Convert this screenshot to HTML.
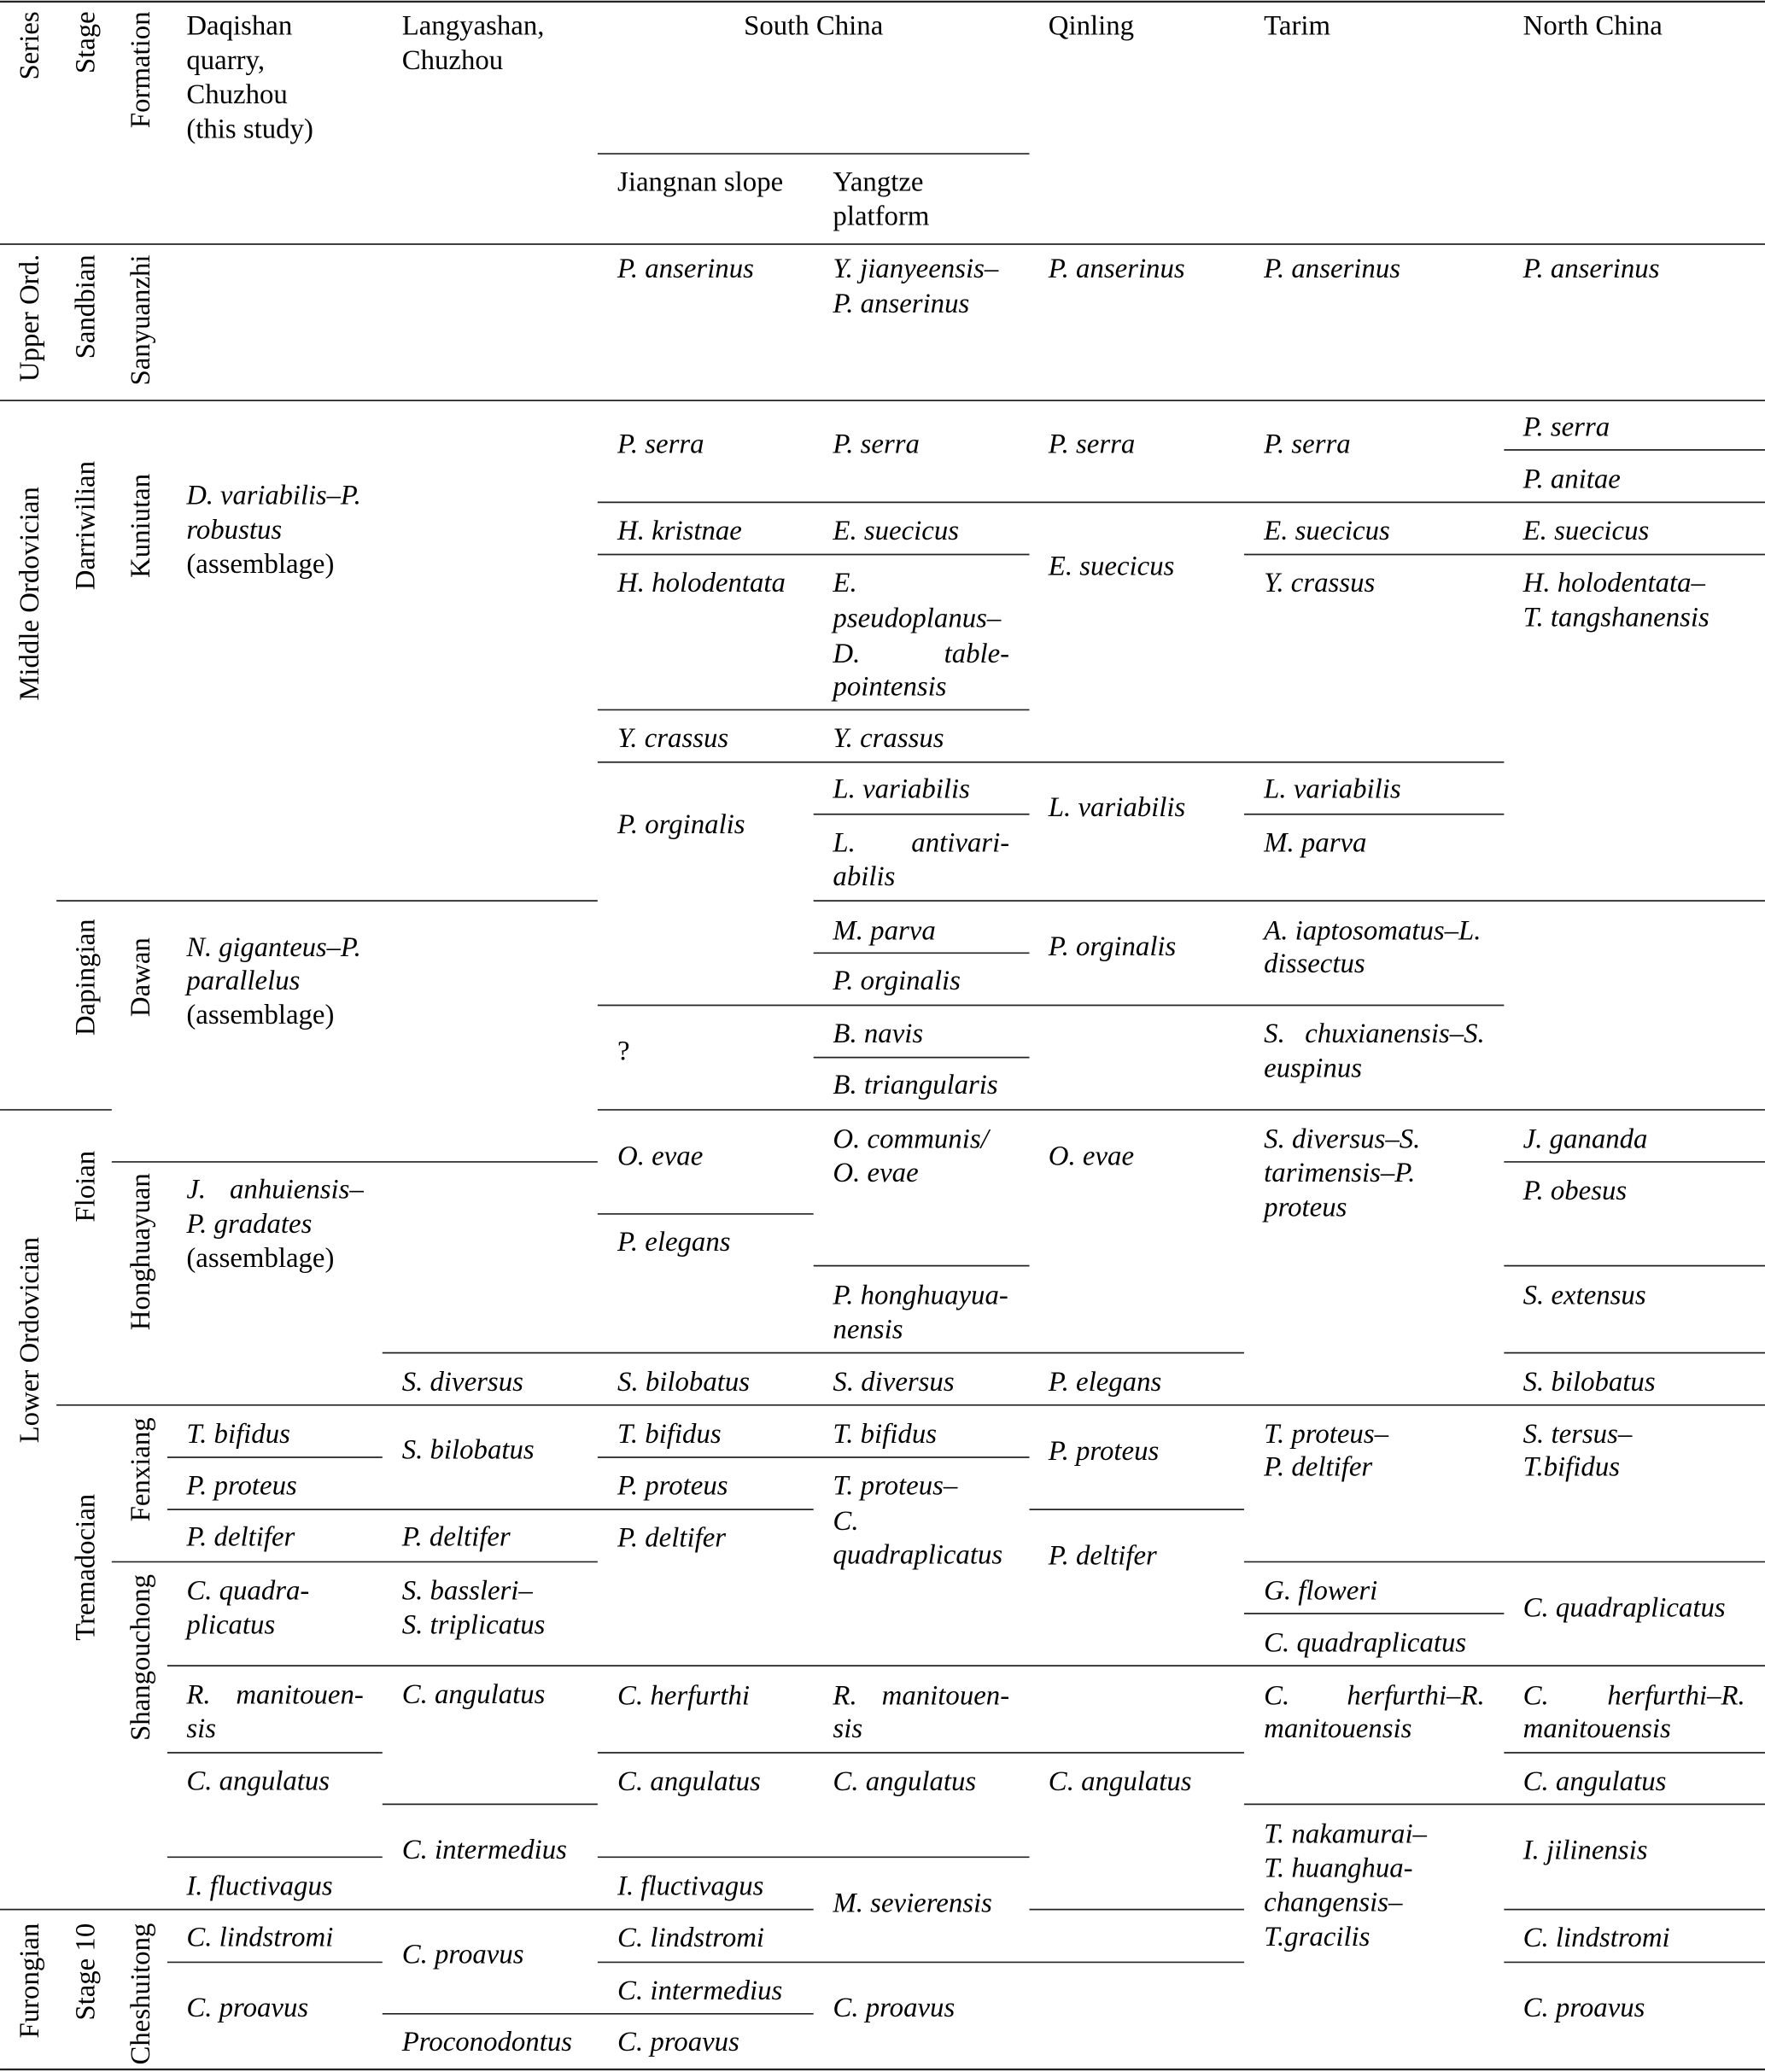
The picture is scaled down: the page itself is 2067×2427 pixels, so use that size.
<!DOCTYPE html>
<html>
<head>
<meta charset="utf-8">
<style>
  html, body { margin: 0; padding: 0; background: #ffffff; }
  svg { display: block; }
  text { font-family: "Liberation Serif", "Times New Roman", serif; font-size: 21.2px; fill: #000; }
  .i { font-style: italic; }
  .ln { stroke: #222; stroke-width: 1.1; fill: none; }
  .lt { stroke: #222; stroke-width: 1.5; fill: none; }
</style>
</head>
<body>
<svg width="2067" height="2427" viewBox="0 0 1335 1567.55" xmlns="http://www.w3.org/2000/svg">
  <rect x="0" y="0" width="1335" height="1567.55" fill="#fff"/>

  <!-- Top and bottom rules -->
  <path class="lt" d="M0 1.2 H1335 M0 1565.6 H1335"/>

  <!-- Horizontal rules -->
  <path class="ln" d="
    M452 116.3 H778.6
    M0 184.7 H1335
    M0 303 H1335
    M1137.6 340.4 H1335
    M452 380 H1335
    M452 419.5 H778.6 M941 419.5 H1335
    M452 537 H778.6
    M452 576.6 H1137.6
    M615.3 616 H778.6 M941 616 H1137.6
    M42.7 681.5 H452 M615.3 681.5 H1335
    M615.3 721 H778.6
    M452 760.5 H1137.6
    M615.3 800 H778.6
    M0 839.6 H84.5 M452 839.6 H1335
    M84.5 879 H452 M1137.6 879 H1335
    M452 918.4 H615.3
    M615.3 957.6 H778.6 M1137.6 957.6 H1335
    M289.2 1023.5 H941 M1137.6 1023.5 H1335
    M42.7 1063 H1335
    M126.5 1102.5 H289.2 M452 1102.5 H778.6
    M126.5 1142 H615.3 M778.6 1142 H941
    M84.5 1181.6 H452 M941 1181.6 H1335
    M941 1220.7 H1137.6
    M126.5 1260.2 H1335
    M126.5 1326 H289.2 M452 1326 H941 M1137.6 1326 H1335
    M289.2 1365 H452 M941 1365 H1335
    M126.5 1405 H289.2 M452 1405 H778.6
    M0 1444.6 H615.3 M778.6 1444.6 H941 M1137.6 1444.6 H1335
    M126.5 1484.5 H289.2 M452 1484.5 H941 M1137.6 1484.5 H1335
    M289.2 1523.5 H615.3
  "/>

  <!-- Rotated labels -->
  <text transform="translate(29,34.5) rotate(-90)" text-anchor="middle">Series</text>
  <text transform="translate(71.5,32.1) rotate(-90)" text-anchor="middle">Stage</text>
  <text transform="translate(113,52.8) rotate(-90)" text-anchor="middle">Formation</text>

  <text transform="translate(29,240.6) rotate(-90)" text-anchor="middle">Upper Ord.</text>
  <text transform="translate(71.5,232.1) rotate(-90)" text-anchor="middle">Sandbian</text>
  <text transform="translate(113,242.2) rotate(-90)" text-anchor="middle">Sanyuanzhi</text>

  <text transform="translate(29,449.2) rotate(-90)" text-anchor="middle">Middle Ordovician</text>
  <text transform="translate(71.5,397.6) rotate(-90)" text-anchor="middle">Darriwilian</text>
  <text transform="translate(113,397.8) rotate(-90)" text-anchor="middle">Kuniutan</text>
  <text transform="translate(71.5,739.4) rotate(-90)" text-anchor="middle">Dapingian</text>
  <text transform="translate(113,739.3) rotate(-90)" text-anchor="middle">Dawan</text>

  <text transform="translate(29,1013.8) rotate(-90)" text-anchor="middle">Lower Ordovician</text>
  <text transform="translate(71.5,897.6) rotate(-90)" text-anchor="middle">Floian</text>
  <text transform="translate(113,947) rotate(-90)" text-anchor="middle">Honghuayuan</text>
  <text transform="translate(71.5,1185.7) rotate(-90)" text-anchor="middle">Tremadocian</text>
  <text transform="translate(113,1111.8) rotate(-90)" text-anchor="middle">Fenxiang</text>
  <text transform="translate(113,1254) rotate(-90)" text-anchor="middle">Shangouchong</text>

  <text transform="translate(29,1498.5) rotate(-90)" text-anchor="middle">Furongian</text>
  <text transform="translate(71.5,1491.8) rotate(-90)" text-anchor="middle">Stage 10</text>
  <text transform="translate(113,1508.5) rotate(-90)" text-anchor="middle">Cheshuitong</text>

  <!-- Header -->
  <text x="141" y="26.3">Daqishan</text>
  <text x="141" y="52.3">quarry,</text>
  <text x="141" y="78.3">Chuzhou</text>
  <text x="141" y="104.3">(this study)</text>
  <text x="304" y="26.3">Langyashan,</text>
  <text x="304" y="52.3">Chuzhou</text>
  <text x="615.3" y="26.3" text-anchor="middle">South China</text>
  <text x="793" y="26.3">Qinling</text>
  <text x="956" y="26.3">Tarim</text>
  <text x="1152" y="26.3">North China</text>
  <text x="467" y="144.3">Jiangnan slope</text>
  <text x="630" y="144.3">Yangtze</text>
  <text x="630" y="170.3">platform</text>

  <!-- Upper Ordovician -->
  <text class="i" x="467" y="209.9">P. anserinus</text>
  <text class="i" x="630" y="209.9">Y. jianyeensis–</text>
  <text class="i" x="630" y="236.5">P. anserinus</text>
  <text class="i" x="793" y="209.9">P. anserinus</text>
  <text class="i" x="956" y="209.9">P. anserinus</text>
  <text class="i" x="1152" y="209.9">P. anserinus</text>

  <!-- Daqishan column -->
  <text class="i" x="141" y="381.5" textLength="132" lengthAdjust="spacingAndGlyphs">D. variabilis–P.</text>
  <text class="i" x="141" y="407.5">robustus</text>
  <text x="141" y="433.5">(assemblage)</text>
  <text class="i" x="141" y="723.5" textLength="132" lengthAdjust="spacingAndGlyphs">N. giganteus–P.</text>
  <text class="i" x="141" y="748.5">parallelus</text>
  <text x="141" y="774.3">(assemblage)</text>
  <text class="i" x="141" y="906.5">J.</text>
  <text class="i" x="275" y="906.5" text-anchor="end">anhuiensis–</text>
  <text class="i" x="141" y="932.5">P. gradates</text>
  <text x="141" y="958.5">(assemblage)</text>
  <text class="i" x="141" y="1091.5">T. bifidus</text>
  <text class="i" x="141" y="1130.5">P. proteus</text>
  <text class="i" x="141" y="1169.5">P. deltifer</text>
  <text class="i" x="141" y="1210">C. quadra-</text>
  <text class="i" x="141" y="1235.8">plicatus</text>
  <text class="i" x="141" y="1289">R.</text>
  <text class="i" x="275" y="1289" text-anchor="end">manitouen-</text>
  <text class="i" x="141" y="1314.5">sis</text>
  <text class="i" x="141" y="1354">C. angulatus</text>
  <text class="i" x="141" y="1433.5">I. fluctivagus</text>
  <text class="i" x="141" y="1472.3">C. lindstromi</text>
  <text class="i" x="141" y="1525.5">C. proavus</text>

  <!-- Langyashan column -->
  <text class="i" x="304" y="1052.2">S. diversus</text>
  <text class="i" x="304" y="1103.5">S. bilobatus</text>
  <text class="i" x="304" y="1169.5">P. deltifer</text>
  <text class="i" x="304" y="1210">S. bassleri–</text>
  <text class="i" x="304" y="1235.8">S. triplicatus</text>
  <text class="i" x="304" y="1288.5">C. angulatus</text>
  <text class="i" x="304" y="1406">C. intermedius</text>
  <text class="i" x="304" y="1485.3">C. proavus</text>
  <text class="i" x="304" y="1551.5">Proconodontus</text>

  <!-- Jiangnan slope -->
  <text class="i" x="467" y="342.5">P. serra</text>
  <text class="i" x="467" y="408.2">H. kristnae</text>
  <text class="i" x="467" y="447.5">H. holodentata</text>
  <text class="i" x="467" y="565">Y. crassus</text>
  <text class="i" x="467" y="630.3">P. orginalis</text>
  <text x="467" y="802">?</text>
  <text class="i" x="467" y="881.2">O. evae</text>
  <text class="i" x="467" y="946.3">P. elegans</text>
  <text class="i" x="467" y="1052.2">S. bilobatus</text>
  <text class="i" x="467" y="1091.5">T. bifidus</text>
  <text class="i" x="467" y="1130.5">P. proteus</text>
  <text class="i" x="467" y="1170">P. deltifer</text>
  <text class="i" x="467" y="1289.5">C. herfurthi</text>
  <text class="i" x="467" y="1354.3">C. angulatus</text>
  <text class="i" x="467" y="1433.5">I. fluctivagus</text>
  <text class="i" x="467" y="1472.5">C. lindstromi</text>
  <text class="i" x="467" y="1512.5">C. intermedius</text>
  <text class="i" x="467" y="1551.5">C. proavus</text>

  <!-- Yangtze platform -->
  <text class="i" x="630" y="342.5">P. serra</text>
  <text class="i" x="630" y="408.2">E. suecicus</text>
  <text class="i" x="630" y="447.5">E.</text>
  <text class="i" x="630" y="474.5">pseudoplanus–</text>
  <text class="i" x="630" y="501.2">D.</text>
  <text class="i" x="763.5" y="501.2" text-anchor="end">table-</text>
  <text class="i" x="630" y="526">pointensis</text>
  <text class="i" x="630" y="565">Y. crassus</text>
  <text class="i" x="630" y="603.5">L. variabilis</text>
  <text class="i" x="630" y="644.3">L.</text>
  <text class="i" x="763.5" y="644.3" text-anchor="end">antivari-</text>
  <text class="i" x="630" y="669.8">abilis</text>
  <text class="i" x="630" y="710.9">M. parva</text>
  <text class="i" x="630" y="748.7">P. orginalis</text>
  <text class="i" x="630" y="788.5">B. navis</text>
  <text class="i" x="630" y="827.5">B. triangularis</text>
  <text class="i" x="630" y="868.5">O. communis/</text>
  <text class="i" x="630" y="894">O. evae</text>
  <text class="i" x="630" y="986.5">P. honghuayua-</text>
  <text class="i" x="630" y="1012.5">nensis</text>
  <text class="i" x="630" y="1052.2">S. diversus</text>
  <text class="i" x="630" y="1091.5">T. bifidus</text>
  <text class="i" x="630" y="1130.5">T. proteus–</text>
  <text class="i" x="630" y="1157.5">C.</text>
  <text class="i" x="630" y="1183">quadraplicatus</text>
  <text class="i" x="630" y="1289.5">R.</text>
  <text class="i" x="763.5" y="1289.5" text-anchor="end">manitouen-</text>
  <text class="i" x="630" y="1314.5">sis</text>
  <text class="i" x="630" y="1354.3">C. angulatus</text>
  <text class="i" x="630" y="1446.5">M. sevierensis</text>
  <text class="i" x="630" y="1525.5">C. proavus</text>

  <!-- Qinling -->
  <text class="i" x="793" y="342.5">P. serra</text>
  <text class="i" x="793" y="435">E. suecicus</text>
  <text class="i" x="793" y="617.5">L. variabilis</text>
  <text class="i" x="793" y="722.9">P. orginalis</text>
  <text class="i" x="793" y="881.2">O. evae</text>
  <text class="i" x="793" y="1052.2">P. elegans</text>
  <text class="i" x="793" y="1104.5">P. proteus</text>
  <text class="i" x="793" y="1183.5">P. deltifer</text>
  <text class="i" x="793" y="1354.3">C. angulatus</text>

  <!-- Tarim -->
  <text class="i" x="956" y="342.5">P. serra</text>
  <text class="i" x="956" y="408.2">E. suecicus</text>
  <text class="i" x="956" y="447.5">Y. crassus</text>
  <text class="i" x="956" y="603.5">L. variabilis</text>
  <text class="i" x="956" y="644.3">M. parva</text>
  <text class="i" x="956" y="710.9">A. iaptosomatus–L.</text>
  <text class="i" x="956" y="735.5">dissectus</text>
  <text class="i" x="956" y="788.5">S.</text>
  <text class="i" x="1123" y="788.5" text-anchor="end">chuxianensis–S.</text>
  <text class="i" x="956" y="814.8">euspinus</text>
  <text class="i" x="956" y="868.5">S. diversus–S.</text>
  <text class="i" x="956" y="894">tarimensis–P.</text>
  <text class="i" x="956" y="920">proteus</text>
  <text class="i" x="956" y="1091.5">T. proteus–</text>
  <text class="i" x="956" y="1116.5">P. deltifer</text>
  <text class="i" x="956" y="1210">G. floweri</text>
  <text class="i" x="956" y="1249.5">C. quadraplicatus</text>
  <text class="i" x="956" y="1289.5">C.</text>
  <text class="i" x="1123" y="1289.5" text-anchor="end">herfurthi–R.</text>
  <text class="i" x="956" y="1314.5">manitouensis</text>
  <text class="i" x="956" y="1394.2">T. nakamurai–</text>
  <text class="i" x="956" y="1420.1">T. huanghua-</text>
  <text class="i" x="956" y="1445.7">changensis–</text>
  <text class="i" x="956" y="1472">T.gracilis</text>

  <!-- North China -->
  <text class="i" x="1152" y="329.8">P. serra</text>
  <text class="i" x="1152" y="369.2">P. anitae</text>
  <text class="i" x="1152" y="408.2">E. suecicus</text>
  <text class="i" x="1152" y="447.5">H. holodentata–</text>
  <text class="i" x="1152" y="473.8">T. tangshanensis</text>
  <text class="i" x="1152" y="868.5">J. gananda</text>
  <text class="i" x="1152" y="907.5">P. obesus</text>
  <text class="i" x="1152" y="986.5">S. extensus</text>
  <text class="i" x="1152" y="1052.2">S. bilobatus</text>
  <text class="i" x="1152" y="1091.5">S. tersus–</text>
  <text class="i" x="1152" y="1116.5">T.bifidus</text>
  <text class="i" x="1152" y="1223">C. quadraplicatus</text>
  <text class="i" x="1152" y="1289.5">C.</text>
  <text class="i" x="1320" y="1289.5" text-anchor="end">herfurthi–R.</text>
  <text class="i" x="1152" y="1314.5">manitouensis</text>
  <text class="i" x="1152" y="1354.3">C. angulatus</text>
  <text class="i" x="1152" y="1406.5">I. jilinensis</text>
  <text class="i" x="1152" y="1472.5">C. lindstromi</text>
  <text class="i" x="1152" y="1525.5">C. proavus</text>
</svg>
</body>
</html>
